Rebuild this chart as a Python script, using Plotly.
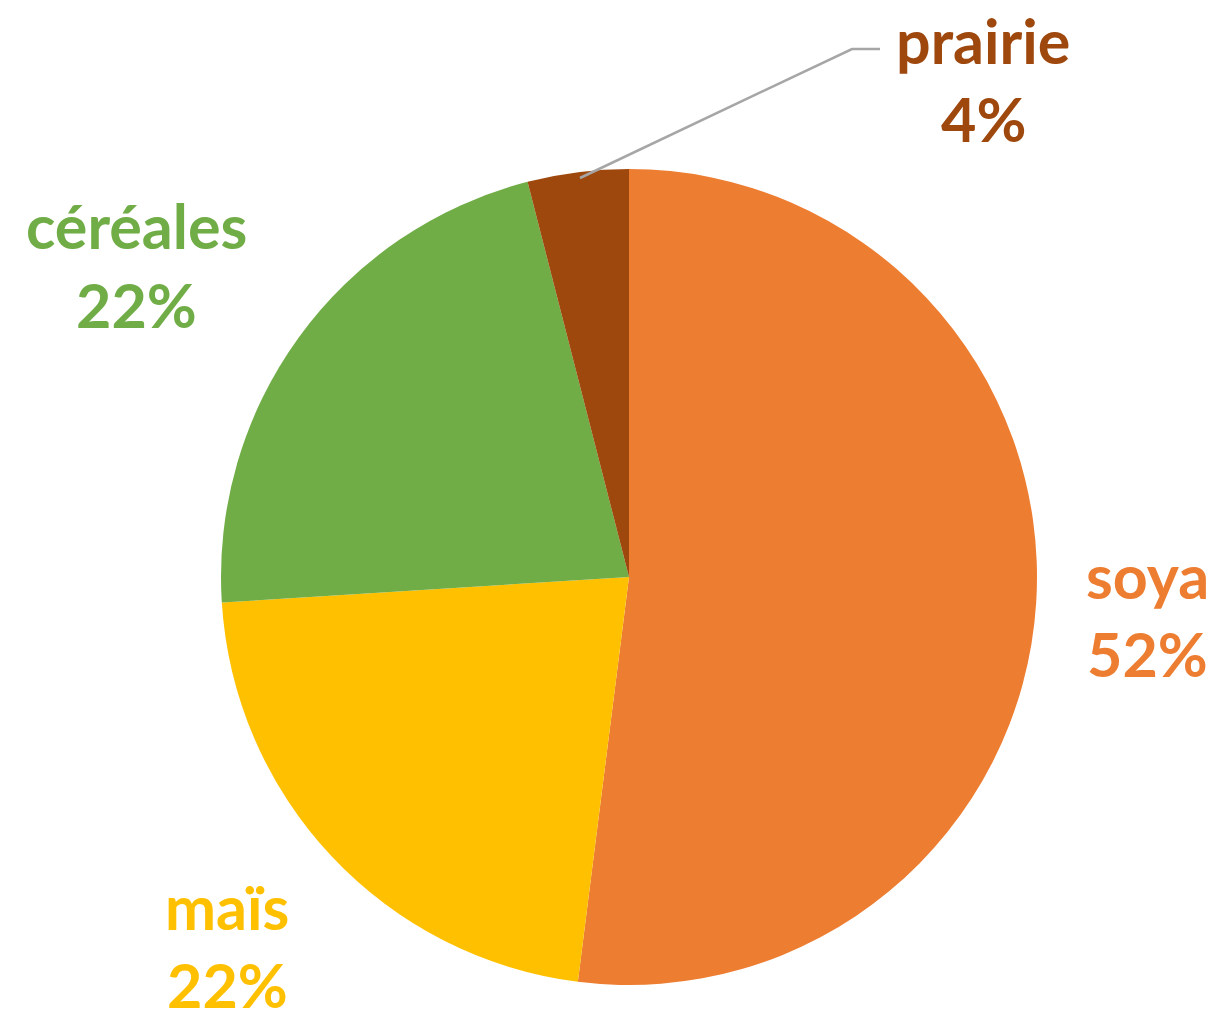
import plotly.graph_objects as go

labels = ["soya", "maïs", "céréales", "prairie"]
values = [52, 22, 22, 4]
colors = ["#ED7D31", "#FFC000", "#70AD47", "#9E480E"]
pct_text = ["52%", "22%", "22%", "4%"]

W, H = 1219, 1022
cx, cy, R = 629, 577, 408

def px(x):
    return x / W

def py(y):
    return 1 - y / H

fig = go.Figure()
fig.add_trace(go.Pie(
    labels=labels, values=values, sort=False, direction="clockwise", rotation=0,
    marker=dict(colors=colors, line=dict(width=0)),
    textinfo="none", hoverinfo="label+percent", showlegend=False,
    domain=dict(x=[px(cx - R), px(cx + R)], y=[py(cy + R), py(cy - R)]),
))

label_pos = {"soya": (1147, 614), "maïs": (227, 945), "céréales": (136, 265), "prairie": (983, 79)}
for lab, pct, col in zip(labels, pct_text, colors):
    x, y = label_pos[lab]
    for txt, dy in ((lab, -39), (pct, 39)):
        fig.add_annotation(
            x=px(x), y=py(y + dy), xref="paper", yref="paper", showarrow=False,
            text=f"<b>{txt}</b>", align="center",
            font=dict(family="Lato", size=61, color=col),
            xanchor="center", yanchor="middle",
        )

# leader line for prairie
fig.add_shape(type="path", xref="paper", yref="paper",
              path=f"M {px(580)} {py(178)} L {px(852)} {py(49)} L {px(880)} {py(49)}",
              line=dict(color="#A6A6A6", width=2.5))

fig.update_layout(
    width=W, height=H, margin=dict(l=0, r=0, t=0, b=0),
    paper_bgcolor="white", plot_bgcolor="white",
)
fig.write_html("out.html", config={"displayModeBar": False},
               post_script="document.body.style.margin='0';document.body.style.padding='0';")
